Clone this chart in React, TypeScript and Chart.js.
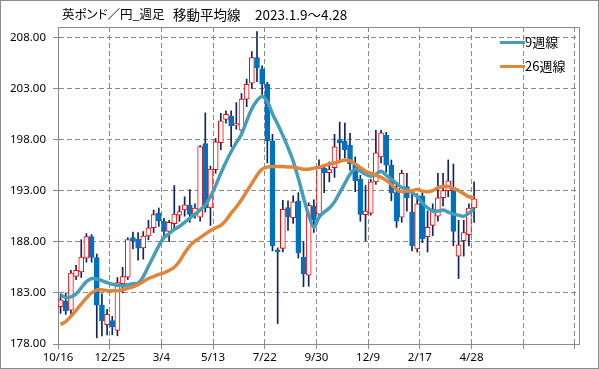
import React, { useEffect, useRef } from 'react';
import { Chart, registerables } from 'chart.js';

Chart.register(...registerables);

// ---- data ----
const xTickLabels = ['10/16', '12/25', '3/4', '5/13', '7/22', '9/30', '12/9', '2/17', '4/28', '', ''];
const xTickIndex = [0, 10, 20, 30, 40, 50, 60, 70, 80, 90, 100];
const yTickValues = [178, 183, 188, 193, 198, 203, 208];

const opens = [
  181.66, 182.2, 181.3, 184.6, 185.06, 186.4, 188.5, 186.46, 181.8, 179.9,
  180.3, 179.34, 183.9, 184.54, 188.4, 188.23, 187.4, 188.56, 189.37, 190.8,
  190.0, 189.0, 189.76, 190.6, 191.1, 191.56, 190.6, 190.4, 197.6, 191.3,
  195.06, 197.7, 199.96, 200.3, 199.4, 198.9, 201.95, 203.5, 206.0, 204.9,
  203.4, 197.87, 187.2, 187.35, 191.33, 190.35, 192.0, 186.5, 184.73, 191.5,
  190.7, 195.2, 194.76, 195.25, 198.0, 197.84, 197.44, 195.6, 194.1, 190.65,
  190.8, 193.85, 196.3, 198.4, 195.5, 192.8, 190.4, 193.4, 190.9, 187.3,
  192.5, 188.5, 189.6, 190.5, 192.3, 193.0, 193.3, 186.6, 188.1, 188.7,
  191.3,
];
const closes = [
  182.31, 181.24, 184.93, 185.2, 186.5, 188.5, 186.46, 181.8, 180.26, 180.9,
  179.7, 184.0, 184.6, 188.2, 188.07, 187.38, 188.56, 189.37, 190.65, 190.03,
  189.0, 189.9, 190.7, 190.94, 191.6, 190.68, 191.3, 197.3, 191.3, 195.1,
  197.77, 199.83, 200.45, 199.34, 199.55, 201.95, 203.4, 206.0, 205.0, 203.4,
  197.87, 187.6, 187.0, 191.17, 190.45, 191.9, 186.9, 184.86, 191.56, 190.1,
  195.2, 194.76, 195.06, 197.28, 197.67, 197.0, 195.6, 193.95, 190.68, 191.0,
  193.85, 196.7, 198.65, 195.5, 192.8, 190.0, 194.7, 192.3, 187.6, 191.7,
  188.3, 189.4, 191.2, 192.3, 193.0, 193.95, 189.0, 187.7, 188.9, 191.3,
  192.2,
];
const highs = [
  182.9, 183.0, 185.2, 185.7, 188.2, 188.8, 188.7, 186.8, 182.9, 181.4,
  180.7, 184.5, 185.5, 188.4, 188.95, 188.9, 189.0, 190.1, 191.1, 191.3,
  190.3, 190.1, 193.5, 191.5, 192.4, 193.1, 191.7, 197.4, 200.6, 195.4,
  198.1, 200.55, 200.8, 200.8, 201.6, 202.5, 203.9, 206.6, 208.55, 205.2,
  203.6, 198.5, 187.4, 192.05, 192.0, 192.5, 192.8, 188.0, 191.8, 192.1,
  196.0, 195.5, 195.8, 198.5, 199.7, 199.6, 198.6, 196.3, 194.5, 193.5,
  194.1, 198.9, 198.9, 198.7, 196.0, 193.8, 195.0, 194.7, 192.7, 192.7,
  192.8, 191.0, 191.7, 194.7, 194.7, 196.0, 195.6, 190.1, 190.1, 191.7,
  193.85,
];
const lows = [
  181.0, 180.9, 180.9, 184.3, 184.5, 186.0, 186.0, 178.6, 178.8, 178.9,
  178.9, 178.8, 183.0, 184.3, 187.3, 186.2, 186.3, 188.2, 188.9, 189.5,
  188.6, 188.0, 189.3, 190.0, 190.5, 189.9, 190.3, 190.0, 190.9, 189.6,
  194.7, 197.0, 199.6, 197.3, 199.0, 198.7, 201.2, 203.0, 203.65, 202.4,
  195.7, 187.1, 180.0, 187.0, 189.1, 189.8, 186.4, 183.6, 183.65, 188.9,
  190.2, 192.8, 193.85, 194.3, 196.0, 196.2, 195.0, 192.9, 190.0, 188.1,
  190.6, 193.6, 195.7, 194.8, 192.0, 189.4, 189.9, 191.0, 187.1, 187.0,
  187.9, 187.0, 188.6, 190.0, 191.5, 192.4, 187.6, 184.4, 186.6, 187.6,
  189.9,
];
const ma9 = [
  182.8, 182.55, 182.6, 182.9, 183.5, 184.1, 184.4, 184.35, 184.2, 184.0,
  183.85, 183.75, 183.7, 183.8, 183.9, 183.95, 184.6, 185.6, 186.6, 187.6,
  188.4, 188.8, 189.2, 189.5, 189.9, 190.3, 190.7, 191.1, 191.6, 192.4,
  193.5, 194.7, 195.8, 196.8, 197.7, 198.5, 199.8, 201.0, 201.8, 202.2,
  201.7, 200.5, 199.5, 198.4, 197.2, 195.9, 194.2, 192.3, 190.6, 189.4,
  190.4, 190.9, 191.3, 191.9, 192.8, 193.7, 194.6, 195.1, 194.9, 194.6,
  194.4, 194.6, 194.9, 194.5, 194.1, 193.7, 193.3, 193.1, 192.8, 192.4,
  191.8, 191.3, 191.0, 191.0, 191.1, 190.9, 190.7, 190.6, 190.5, 190.8,
  191.2,
];
const ma26 = [
  179.9, 180.2, 180.7, 181.3, 181.9, 182.5, 183.0, 183.3, 183.3, 183.2,
  183.2, 183.2, 183.3, 183.45, 183.6, 183.8, 184.1, 184.4, 184.6, 184.8,
  184.95, 185.2, 185.5, 186.1, 186.9, 187.6, 188.05, 188.4, 188.75, 189.1,
  189.35, 189.6, 190.1, 190.8, 191.4, 192.1, 192.9, 193.7, 194.5, 195.1,
  195.3, 195.35, 195.35, 195.35, 195.3, 195.3, 195.2, 195.1, 195.1, 195.2,
  195.3, 195.45, 195.6, 195.7, 195.85, 196.0, 195.9, 195.6, 195.25, 194.9,
  194.7, 194.5, 194.3, 194.0, 193.6, 193.1, 192.9, 192.95, 193.0, 193.1,
  192.95, 192.9, 193.0, 193.3, 193.4, 193.4, 193.2, 193.0, 192.7, 192.4,
  192.3,
];

const TEAL = '#449DB9';
const ORANGE = '#E0853A';
const UP = '#FF0000';
const DOWN = '#0070C0';
const WICK = '#0F2462';
const GRID = '#8A8A8A';
const FONT = '"Noto Sans", "Noto Sans CJK JP", sans-serif';

const framePlugin = {
  id: 'frame',
  afterDraw(chart: any) {
    const { ctx, chartArea } = chart;
    ctx.save();
    ctx.strokeStyle = GRID;
    ctx.lineWidth = 1;
    ctx.beginPath();
    ctx.moveTo(Math.round(chartArea.left) + 0.5, Math.round(chartArea.top) + 0.5);
    ctx.lineTo(Math.round(chartArea.right) + 0.5, Math.round(chartArea.top) + 0.5);
    ctx.lineTo(Math.round(chartArea.right) + 0.5, Math.round(chartArea.bottom) + 0.5);
    ctx.stroke();
    ctx.restore();
  },
};

export default function App() {
  const ref = useRef<HTMLCanvasElement>(null);

  useEffect(() => {
    const pos = (i: number) => i + 0.5;
    const isUp = (i: number) => closes[i] >= opens[i];
    const chart = new Chart(ref.current as HTMLCanvasElement, {
      type: 'bar',
      data: {
        datasets: [
          {
            type: 'line',
            label: '26週線',
            data: ma26.map((v, i) => ({ x: pos(i), y: v })),
            borderColor: ORANGE,
            borderWidth: 3.5,
            pointRadius: 0,
            tension: 0.3,
            order: 0,
          } as any,
          {
            type: 'line',
            label: '9週線',
            data: ma9.map((v, i) => ({ x: pos(i), y: v })),
            borderColor: TEAL,
            borderWidth: 3.5,
            pointRadius: 0,
            tension: 0.3,
            order: 1,
          } as any,
          {
            type: 'bar',
            label: 'body',
            data: opens.map((o, i) => ({ x: pos(i), y: [o, closes[i]] })),
            backgroundColor: opens.map((_, i) => (isUp(i) ? '#FFFFFF' : DOWN)),
            borderColor: opens.map((_, i) => (isUp(i) ? UP : DOWN)),
            borderWidth: 1,
            borderSkipped: false,
            barThickness: 5,
            grouped: false,
            order: 2,
          } as any,
          {
            type: 'bar',
            label: 'wick',
            data: lows.map((l, i) => ({ x: pos(i), y: [l, highs[i]] })),
            backgroundColor: WICK,
            borderWidth: 0,
            barThickness: 1,
            grouped: false,
            order: 3,
          } as any,
        ],
      },
      options: {
        animation: false,
        responsive: false,
        devicePixelRatio: 1,
        layout: { padding: { left: 0, top: 27, right: 20, bottom: 0 } },
        plugins: {
          legend: { display: false },
          title: { display: false },
          tooltip: { enabled: false },
        },
        scales: {
          x: {
            type: 'linear',
            min: 0,
            max: 100.8,
            offset: false,
            afterFit: (s: any) => {
              s.height = 25;
            },
            afterBuildTicks: (s: any) => {
              s.ticks = xTickIndex.map((v) => ({ value: v }));
            },
            grid: {
              offset: false,
              color: GRID,
              lineWidth: 1,
              drawTicks: true,
              tickLength: 5,
              tickColor: GRID,
              tickBorderDash: [],
            },
            border: { display: true, color: GRID, width: 1, dash: [5, 3] },
            ticks: {
              autoSkip: false,
              maxRotation: 0,
              padding: 2,
              color: '#000',
              font: { family: FONT, size: 11.5 },
              callback: (_v: any, i: number) => xTickLabels[i] ?? '',
            },
          } as any,
          y: {
            type: 'linear',
            min: 178,
            max: 209,
            afterFit: (s: any) => {
              s.width = 58;
            },
            afterBuildTicks: (s: any) => {
              s.ticks = yTickValues.map((v) => ({ value: v }));
            },
            grid: {
              color: GRID,
              lineWidth: 1,
              drawTicks: true,
              tickLength: 5,
              tickColor: GRID,
              tickBorderDash: [],
            },
            border: { display: true, color: GRID, width: 1, dash: [5, 3] },
            ticks: {
              padding: 7,
              color: '#000',
              font: { family: FONT, size: 11.5 },
              callback: (v: any) => Number(v).toFixed(2),
            },
          } as any,
        },
      },
      plugins: [framePlugin],
    });
    return () => chart.destroy();
  }, []);

  const titleStyle: React.CSSProperties = {
    position: 'absolute',
    top: 5,
    fontFamily: '"Noto Sans CJK JP", sans-serif',
    fontSize: 13.5,
    lineHeight: '18px',
    color: '#000',
    whiteSpace: 'nowrap',
    fontFeatureSettings: '"palt"',
  };
  const legendText: React.CSSProperties = {
    position: 'absolute',
    left: 525,
    fontFamily: '"Noto Sans CJK JP", sans-serif',
    fontSize: 13,
    lineHeight: '16px',
    color: '#000',
    whiteSpace: 'nowrap',
  };

  return (
    <div
      style={{
        position: 'fixed',
        left: 0,
        top: 0,
        width: 599,
        height: 369,
        background: '#fff',
        overflow: 'hidden',
      }}
    >
      <canvas
        ref={ref}
        width={599}
        height={369}
        style={{ position: 'absolute', left: 0, top: 0, width: 599, height: 369 }}
      />
      <div style={{ ...titleStyle, left: 62, fontSize: 12.5 }}>英ポンド／円_週足</div>
      <div style={{ ...titleStyle, left: 173 }}>移動平均線</div>
      <div style={{ ...titleStyle, left: 255 }}>2023.1.9〜4.28</div>
      <div style={{ position: 'absolute', left: 500, top: 41, width: 25, height: 3, background: TEAL }} />
      <div style={{ ...legendText, top: 34 }}>9週線</div>
      <div style={{ position: 'absolute', left: 500, top: 65, width: 25, height: 3, background: ORANGE }} />
      <div style={{ ...legendText, top: 58 }}>26週線</div>
      <div
        style={{
          position: 'absolute',
          left: 0,
          top: 0,
          width: 599,
          height: 369,
          border: '1px solid #8C8C8C',
          boxSizing: 'border-box',
          pointerEvents: 'none',
        }}
      />
    </div>
  );
}
